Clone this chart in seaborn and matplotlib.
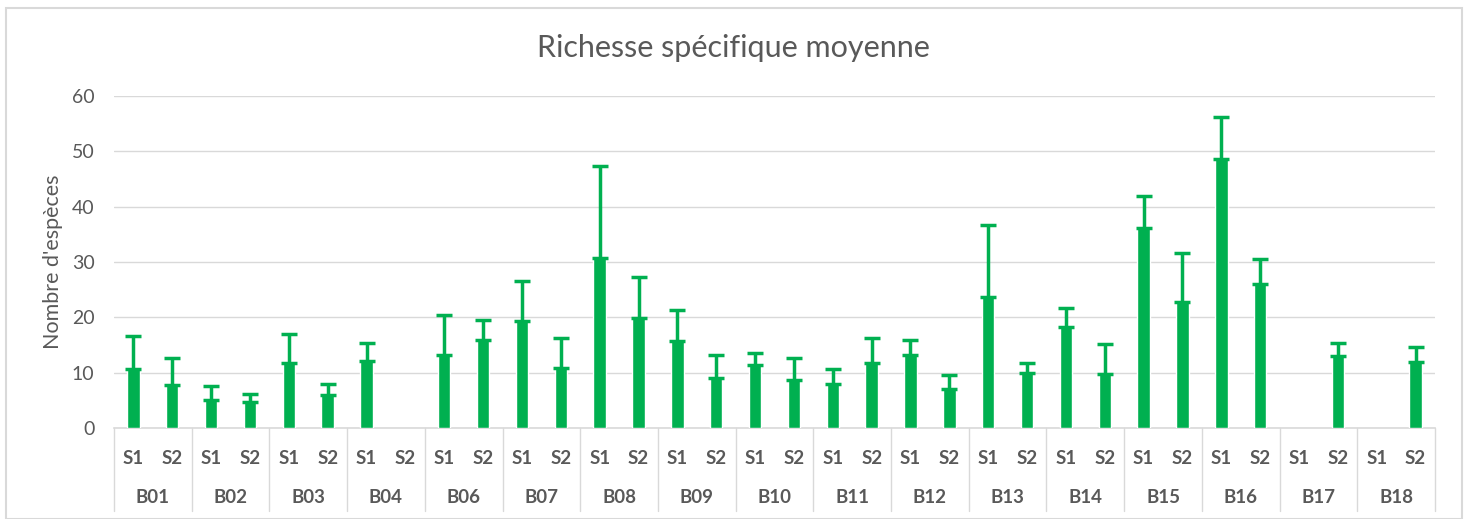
import numpy as np
import pandas as pd
import matplotlib
matplotlib.use("Agg")
import matplotlib.pyplot as plt
from matplotlib.patches import Rectangle
import seaborn as sns

# Sites and sampling sessions
sites = ["B01", "B02", "B03", "B04", "B06", "B07", "B08", "B09", "B10",
         "B11", "B12", "B13", "B14", "B15", "B16", "B17", "B18"]
sessions = ["S1", "S2"]

# Mean species richness per site and session
mean_s1 = [10.7, 5.1, 11.7, 12.1, 13.2, 19.4, 30.8, 15.7, 11.3,
           8.0, 13.2, 23.7, 18.3, 36.1, 48.6, np.nan, np.nan]
mean_s2 = [7.8, 4.7, 6.0, np.nan, 15.9, 10.9, 19.8, 9.1, 8.6,
           11.7, 7.1, 10.0, 9.7, 22.7, 26.0, 13.0, 11.9]

# Standard deviation (upper error bar)
sd_s1 = [6.0, 2.5, 5.2, 3.2, 7.2, 7.2, 16.5, 5.6, 2.3,
         2.7, 2.7, 13.0, 3.3, 5.8, 7.6, np.nan, np.nan]
sd_s2 = [4.8, 1.5, 1.9, np.nan, 3.6, 5.4, 7.4, 4.1, 4.0,
         4.6, 2.4, 1.7, 5.5, 8.9, 4.5, 2.3, 2.8]

GREEN = "#00B050"
TEXT = "#595959"
GRID = "#D9D9D9"

rows = []
for i, site in enumerate(sites):
    rows.append({"key": f"{site}-S1", "site": site, "session": "S1",
                 "mean": mean_s1[i], "sd": sd_s1[i]})
    rows.append({"key": f"{site}-S2", "site": site, "session": "S2",
                 "mean": mean_s2[i], "sd": sd_s2[i]})
df = pd.DataFrame(rows)
order = df["key"].tolist()

sns.set_theme(style="white")
plt.rcParams["font.family"] = ["Lato", "DejaVu Sans"]

fig = plt.figure(figsize=(14.7, 5.19), dpi=100)
ax = fig.add_axes([114 / 1470, (519 - 428) / 519, (1435 - 114) / 1470, 332 / 519])

sns.barplot(data=df, x="key", y="mean", order=order, color=GREEN,
            saturation=1, width=0.32, errorbar=None, ax=ax, zorder=3)

# Upper-only error bars
pos = np.arange(len(df))
vals = df["mean"].to_numpy()
errs = df["sd"].to_numpy()
ax.errorbar(pos, vals, yerr=[np.zeros_like(errs), errs], fmt="none",
            ecolor=GREEN, elinewidth=2.5, capsize=5.5, capthick=2.5, zorder=4)

ax.set_xlim(-0.5, len(df) - 0.5)
ax.set_ylim(0, 60)
ax.set_yticks(np.arange(0, 61, 10))
ax.yaxis.grid(True, color=GRID, linewidth=1.0, zorder=0)
ax.set_axisbelow(True)
for s in ["left", "right", "top"]:
    ax.spines[s].set_visible(False)
ax.spines["bottom"].set_color(GRID)
ax.spines["bottom"].set_linewidth(1.2)

ax.tick_params(axis="y", length=0, pad=14, labelsize=14, labelcolor=TEXT)
ax.set_xticks(pos)
ax.set_xticklabels(df["session"].tolist())
ax.tick_params(axis="x", length=0, pad=16, labelsize=13.5, labelcolor=TEXT)
for lab in ax.get_xticklabels():
    lab.set_fontweight("bold")

ax.set_xlabel("")
ax.set_ylabel("Nombre d'espèces", fontsize=15.5, color=TEXT, labelpad=6)

# Two-level category axis: site labels and separators
trans = ax.get_xaxis_transform()
for i, site in enumerate(sites):
    ax.text(2 * i + 0.5, -0.208, site, transform=trans, ha="center",
            va="center", fontsize=13.5, fontweight="bold", color=TEXT)
for b in np.arange(-0.5, len(df), 2):
    ax.plot([b, b], [0, -0.25], transform=trans, color=GRID,
            linewidth=1.0, clip_on=False)

fig.text(733 / 1470, 1 - 48 / 519, "Richesse spécifique moyenne",
         ha="center", va="center", fontsize=22, color=TEXT)

# Chart frame
fig.patches.append(Rectangle((6 / 1470, 0), (1462 - 6) / 1470, 1 - 8 / 519,
                             transform=fig.transFigure, fill=False,
                             edgecolor=GRID, linewidth=1.5))

fig.savefig("out.png", dpi=100)
